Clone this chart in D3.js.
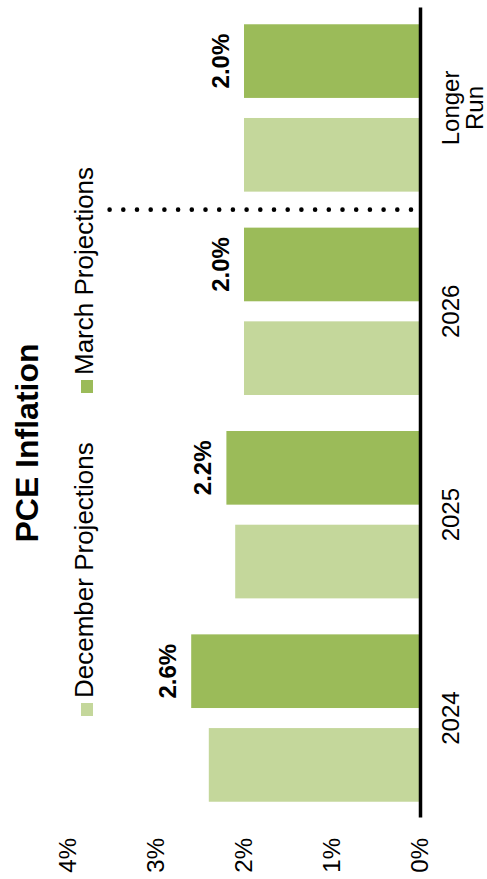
<!DOCTYPE html>
<html>
<head>
<meta charset="utf-8">
<script src="https://cdn.jsdelivr.net/npm/d3@7"></script>
<style>
  html, body { margin: 0; padding: 0; background: #ffffff; }
  svg { display: block; font-family: "Liberation Sans", Arial, sans-serif; }
</style>
</head>
<body>
<svg id="chart" width="487" height="879"></svg>
<script>
// PCE inflation projections by year
const categories = ["2024", "2025", "2026", "Longer Run"];
const seriesNames = ["December Projections", "March Projections"];
const december = [2.4, 2.1, 2.0, 2.0];
const march = [2.6, 2.2, 2.0, 2.0];
const valueTicks = [0, 1, 2, 3, 4];
const seriesColors = ["#c4d79b", "#9bbb59"];

const W = 879, H = 487; // chart drawn in landscape, then turned a quarter
const svg = d3.select("#chart");
svg.append("rect").attr("width", 487).attr("height", 879).attr("fill", "#fff");
const g = svg.append("g").attr("transform", `translate(0,${W}) rotate(-90)`);

const x0 = d3.scaleBand().domain(categories).range([61, 871])
  .paddingInner(0.177).paddingOuter(0.08);
const x1 = d3.scaleBand().domain(seriesNames).range([0, x0.bandwidth()])
  .paddingInner(0.214);
const y = d3.scaleLinear().domain([0, 4]).range([420, 68]);

const rows = categories.map((c, i) => ({ cat: c, values: [december[i], march[i]] }));

// bars
const groups = g.selectAll("g.cat").data(rows).join("g")
  .attr("class", "cat")
  .attr("transform", d => `translate(${x0(d.cat)},0)`);
groups.selectAll("rect").data(d => d.values.map((v, k) => ({ s: seriesNames[k], v, k })))
  .join("rect")
  .attr("x", d => x1(d.s))
  .attr("width", x1.bandwidth())
  .attr("y", d => y(d.v))
  .attr("height", d => y(0) - y(d.v))
  .attr("fill", d => seriesColors[d.k]);

// value labels on the March series
const fmt = d3.format(".1f");
groups.append("text")
  .attr("x", x1("March Projections") + x1.bandwidth() / 2)
  .attr("y", d => y(d.values[1]) - 15)
  .attr("text-anchor", "middle")
  .attr("font-weight", "bold")
  .attr("font-size", 24)
  .attr("fill", "#000")
  .text(d => fmt(d.values[1]) + "%");

// value axis labels
g.append("g")
  .attr("transform", "translate(41,0)")
  .call(d3.axisLeft(y).tickValues(valueTicks).tickSize(0).tickPadding(0)
    .tickFormat(d => d + "%"))
  .call(a => a.select(".domain").remove())
  .call(a => a.selectAll("text").attr("font-size", 24).attr("fill", "#000")
    .attr("font-family", null));

// category axis with baseline
g.append("g")
  .attr("transform", `translate(0,${y(0)})`)
  .call(d3.axisBottom(x0).tickSize(0).tickSizeOuter(0).tickPadding(22))
  .call(a => a.select(".domain").attr("stroke", "#000").attr("stroke-width", 3.5))
  .call(a => a.selectAll("text")
    .attr("font-size", 24).attr("fill", "#000").attr("font-family", null)
    .each(function (d) {
      const words = d.split(" ");
      if (words.length < 2) return;
      const t = d3.select(this).text(null);
      words.forEach((w, i) => {
        t.append("tspan").attr("x", 0).attr("dy", i === 0 ? "0.71em" : "1em").text(w);
      });
      t.attr("dy", null);
    }));

// dotted separator between projection years and the longer run
const sepX = (x0("2026") + x0.bandwidth() + x0("Longer Run")) / 2;
g.append("line")
  .attr("x1", sepX).attr("x2", sepX)
  .attr("y1", y(0) - 9).attr("y2", y(3.6))
  .attr("stroke", "#000")
  .attr("stroke-width", 4.6)
  .attr("stroke-linecap", "round")
  .attr("stroke-dasharray", "0 13.7");

// title
g.append("text")
  .attr("x", 436).attr("y", 38)
  .attr("text-anchor", "middle")
  .attr("font-weight", "bold")
  .attr("font-size", 32)
  .attr("fill", "#000")
  .text("PCE Inflation");

// legend
const legendX = [163, 486];
const legend = g.append("g").selectAll("g").data(seriesNames).join("g")
  .attr("transform", (d, i) => `translate(${legendX[i]},0)`);
legend.append("rect")
  .attr("x", 0).attr("y", 81).attr("width", 13).attr("height", 12)
  .attr("fill", (d, i) => seriesColors[i]);
legend.append("text")
  .attr("x", 18).attr("y", 93)
  .attr("font-size", 26)
  .attr("fill", "#000")
  .text(d => d);
</script>
</body>
</html>
